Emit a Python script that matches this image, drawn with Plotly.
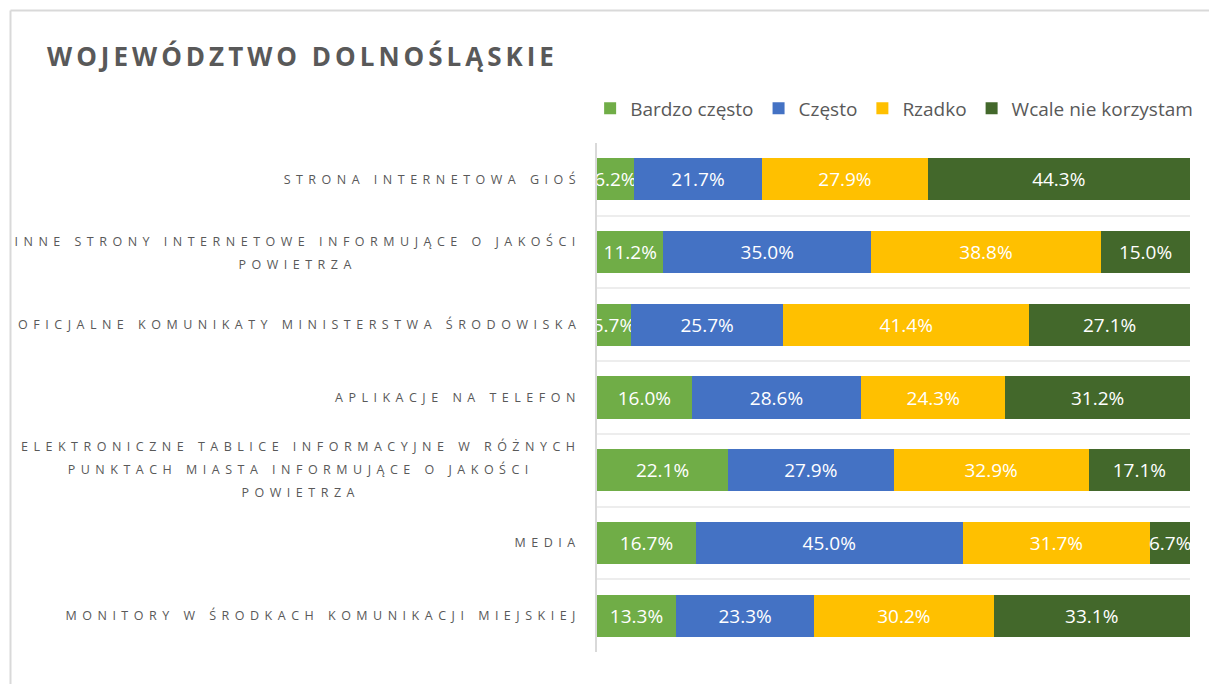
import plotly.graph_objects as go

# ---- data ----
categories = [
    "STRONA INTERNETOWA GIOŚ",
    "INNE STRONY INTERNETOWE INFORMUJĄCE O JAKOŚCI POWIETRZA",
    "OFICJALNE KOMUNIKATY MINISTERSTWA ŚRODOWISKA",
    "APLIKACJE NA TELEFON",
    "ELEKTRONICZNE TABLICE INFORMACYJNE W RÓŻNYCH PUNKTACH MIASTA INFORMUJĄCE O JAKOŚCI POWIETRZA",
    "MEDIA",
    "MONITORY W ŚRODKACH KOMUNIKACJI MIEJSKIEJ",
]
category_labels = [
    "STRONA INTERNETOWA GIOŚ",
    "INNE STRONY INTERNETOWE INFORMUJĄCE O JAKOŚCI<br>POWIETRZA",
    "OFICJALNE KOMUNIKATY MINISTERSTWA ŚRODOWISKA",
    "APLIKACJE NA TELEFON",
    "ELEKTRONICZNE TABLICE INFORMACYJNE W RÓŻNYCH<br>PUNKTACH MIASTA INFORMUJĄCE O JAKOŚCI<br>POWIETRZA",
    "MEDIA",
    "MONITORY W ŚRODKACH KOMUNIKACJI MIEJSKIEJ",
]
series_names = ["Bardzo często", "Często", "Rzadko", "Wcale nie korzystam"]
bardzo_czesto = [6.2, 11.2, 5.7, 16.0, 22.1, 16.7, 13.3]
czesto = [21.7, 35.0, 25.7, 28.6, 27.9, 45.0, 23.3]
rzadko = [27.9, 38.8, 41.4, 24.3, 32.9, 31.7, 30.2]
wcale = [44.3, 15.0, 27.1, 31.2, 17.1, 6.7, 33.1]
series_values = [bardzo_czesto, czesto, rzadko, wcale]
series_colors = ["#70AD47", "#4472C4", "#FFC000", "#43682B"]
title_text = "WOJEWÓDZTWO DOLNOŚLĄSKIE"

FONT = "Open Sans"
GREY = "#595959"

fig = go.Figure()
for name, vals, col in zip(series_names, series_values, series_colors):
    fig.add_trace(go.Bar(
        orientation="h",
        x=vals,
        y=categories,
        name=name,
        marker=dict(color=col, line=dict(width=0)),
        text=[f"{v:.1f}%" for v in vals],
        textposition="inside",
        insidetextanchor="middle",
        textangle=0,
        textfont=dict(color="white", size=19, family=FONT),
        cliponaxis=True,
        hoverinfo="x+y+name",
    ))

annotations = []
for cat, lab in zip(categories, category_labels):
    annotations.append(dict(
        x=0, xref="paper", y=cat, yref="y",
        text=lab, showarrow=False,
        xanchor="right", yanchor="middle", align="center",
        xshift=-14.5,
        font=dict(family=FONT, size=12.5, color=GREY),
    ))

fig.update_layout(
    width=1209, height=684,
    margin=dict(l=597, r=18, t=143, b=32),
    paper_bgcolor="white", plot_bgcolor="white",
    barmode="stack", barnorm="percent", bargap=0.42,
    uniformtext=dict(minsize=19, mode="show"),
    font=dict(family=FONT, color=GREY),
    title=dict(
        text=f"<b>{title_text}</b>",
        x=47 / 1209, xanchor="left", xref="container",
        y=1 - 57 / 684, yanchor="middle", yref="container",
        font=dict(family=FONT, size=26, color=GREY),
    ),
    legend=dict(
        orientation="h", x=1.012, xanchor="right", y=1.068, yanchor="middle",
        font=dict(family=FONT, size=19, color=GREY),
        bgcolor="rgba(0,0,0,0)", traceorder="normal",
    ),
    xaxis=dict(range=[0, 100], showgrid=False, zeroline=False,
               showticklabels=False, ticks="", showline=False, fixedrange=True),
    yaxis=dict(type="category", categoryorder="array", categoryarray=categories,
               autorange="reversed", showgrid=True, gridcolor="#ededed", gridwidth=1.5,
               tickson="boundaries", showticklabels=False, ticks="",
               showline=True, linecolor="#d9d9d9", linewidth=2, zeroline=False,
               fixedrange=True),
    annotations=annotations,
    shapes=[
        dict(type="line", xref="paper", yref="paper",
             x0=(9.5 - 597) / 594, x1=(9.5 - 597) / 594, y0=-0.2, y1=(652 - 10.5) / 509,
             line=dict(color="#d9d9d9", width=2)),
        dict(type="line", xref="paper", yref="paper",
             x0=(9.5 - 597) / 594, x1=1.1, y0=(652 - 10.5) / 509, y1=(652 - 10.5) / 509,
             line=dict(color="#d9d9d9", width=2)),
    ],
)

post_js = """
(function(){
  document.body.style.margin='0';
  document.documentElement.style.overflow='hidden';
  document.body.style.overflow='hidden';
  var gd=document.getElementById('{plot_id}');
  var t=gd.querySelector('.gtitle');
  if(t){ t.style.letterSpacing='4px'; }
  gd.querySelectorAll('g.annotation text.annotation-text').forEach(function(el){
    var b0=el.getBBox();
    el.style.letterSpacing='5.5px';
    var lines=el.querySelectorAll('tspan.line');
    lines.forEach(function(ln,i){ ln.setAttribute('dy',(i*1.84)+'em'); });
    var b1=el.getBBox();
    var dx=(b0.x+b0.width)-(b1.x+b1.width);
    var dy=(b0.y+b0.height/2)-(b1.y+b1.height/2);
    el.setAttribute('transform','translate('+dx+','+dy+')');
  });
})();
"""

fig.write_html("out.html", post_script=post_js, config={"displayModeBar": False})
